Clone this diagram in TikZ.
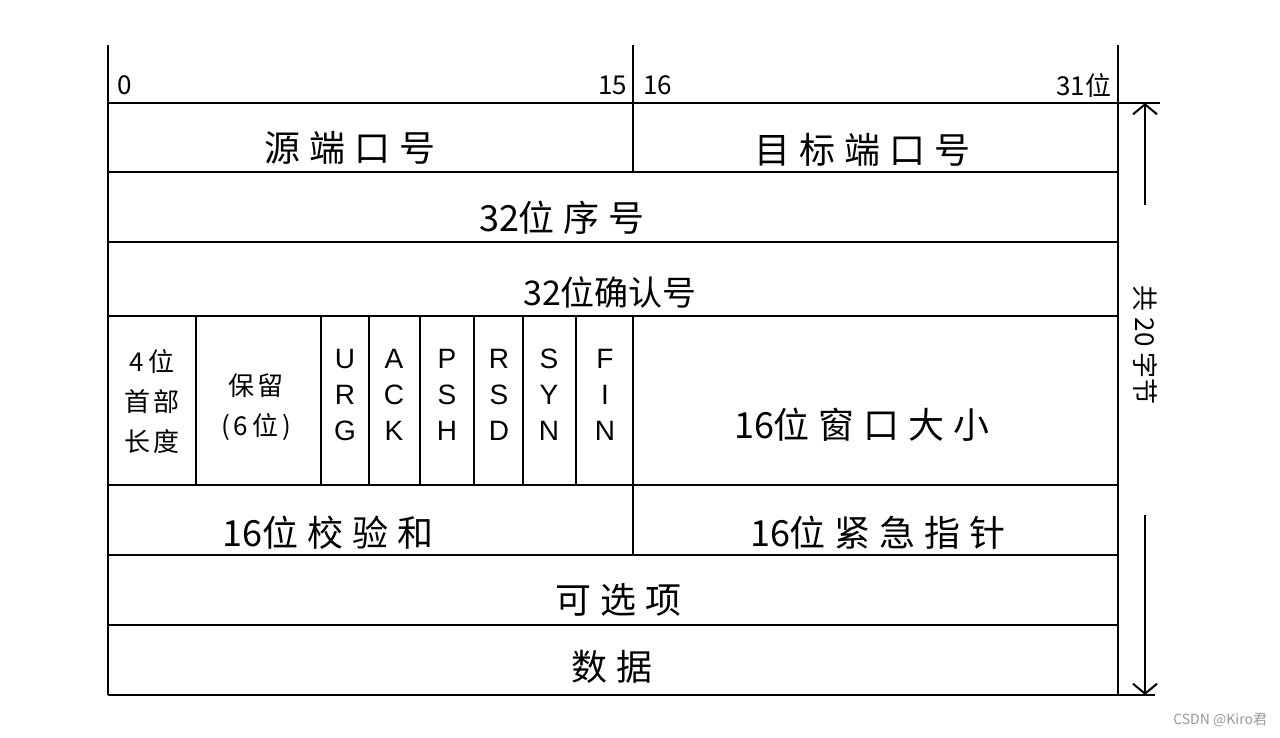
\documentclass[tikz,border=0pt]{standalone}
\usepackage{fontspec}
\setmainfont{Liberation Sans}
\newfontfamily\cjk{Noto Sans CJK SC}
\newfontfamily\cjkw[LetterSpace=25]{Noto Sans CJK SC}
\newfontfamily\cjkm[LetterSpace=15]{Noto Sans CJK SC}
\usetikzlibrary{arrows.meta}
\begin{document}
\begin{tikzpicture}[x=1pt,y=-1pt,line width=2pt,
  big/.style={font=\cjkw\fontsize{36}{40}\selectfont,inner sep=0pt},
  plain/.style={font=\cjk\fontsize{34}{40}\selectfont,inner sep=0pt},
  mid/.style={font=\cjkm\fontsize{26}{40}\selectfont,inner sep=0pt,align=center},
  num/.style={font=\cjk\fontsize{26}{30}\selectfont,inner sep=0pt},
  flag/.style={font=\fontsize{28}{36}\selectfont,inner sep=0pt,align=center},
  tip/.style={-{Straight Barb[length=10pt,width=24pt,line width=2pt]}}]
\useasboundingbox (0,0) rectangle (1280,737);
\fill[white] (0,0) rectangle (1280,737);
% frame
\draw (108,45) -- (108,695);
\draw (1118,45) -- (1118,695);
\draw (633,45) -- (633,172);
\draw (633,316) -- (633,555);
\draw (108,103) -- (1160,103);
\foreach \y in {172,242,316,485,555,625} \draw (108,\y) -- (1118,\y);
\draw (108,695) -- (1155,695);
\foreach \x in {196,321,369,420,474,523,576} \draw (\x,316) -- (\x,485);
% header
\node[num,anchor=west] (b0) at (116,85) {0};
\node[num,anchor=east] (b15) at (628,85) {15};
\node[num,anchor=west] (b16) at (642,85) {16};
\node[num,anchor=east] (b31) at (1112,85) {31位};
% rows
\node[big] (src) at (350,148) {源端口号};
\node[big] (dst) at (862,150) {目标端口号};
\node[big] (seq) at (562,218) {{\cjk 32}位序号};
\node[plain] (ack) at (610,292) {32位确认号};
\node[mid] (hlen) at (152,402) {4位\\首部\\长度};
\node[mid] (res) at (256,407) {保留\\(6位)};
\node[flag] (urg) at (345,395) {U\\R\\G};
\node[flag] (fack) at (394,395) {A\\C\\K};
\node[flag] (psh) at (447,395) {P\\S\\H};
\node[flag] (rsd) at (499,395) {R\\S\\D};
\node[flag] (syn) at (549,395) {S\\Y\\N};
\node[flag] (fin) at (605,395) {F\\I\\N};
\node[big] (win) at (862,425) {{\cjk 16}位窗口大小};
\node[big] (chk) at (328,533) {{\cjk 16}位校验和};
\node[big] (urgp) at (878,533) {{\cjk 16}位紧急指针};
\node[big] (opt) at (618,600) {可选项};
\node[big] (data) at (612,667) {数据};
% size arrows
\coordinate (atop) at (1145,103);
\coordinate (a1) at (1145,205);
\coordinate (a2) at (1145,515);
\coordinate (abot) at (1145,695);
\draw[tip] (a1) -- (atop);
\draw[tip] (a2) -- (abot);
\node[num,rotate=-90] (total) at (1145,345) {共 20 字节};
\node[font=\cjk\fontsize{14}{16}\selectfont,text=black!40,anchor=east,inner sep=0pt] (wm) at (1268,720) {CSDN @Kiro君};
\end{tikzpicture}
\end{document}
